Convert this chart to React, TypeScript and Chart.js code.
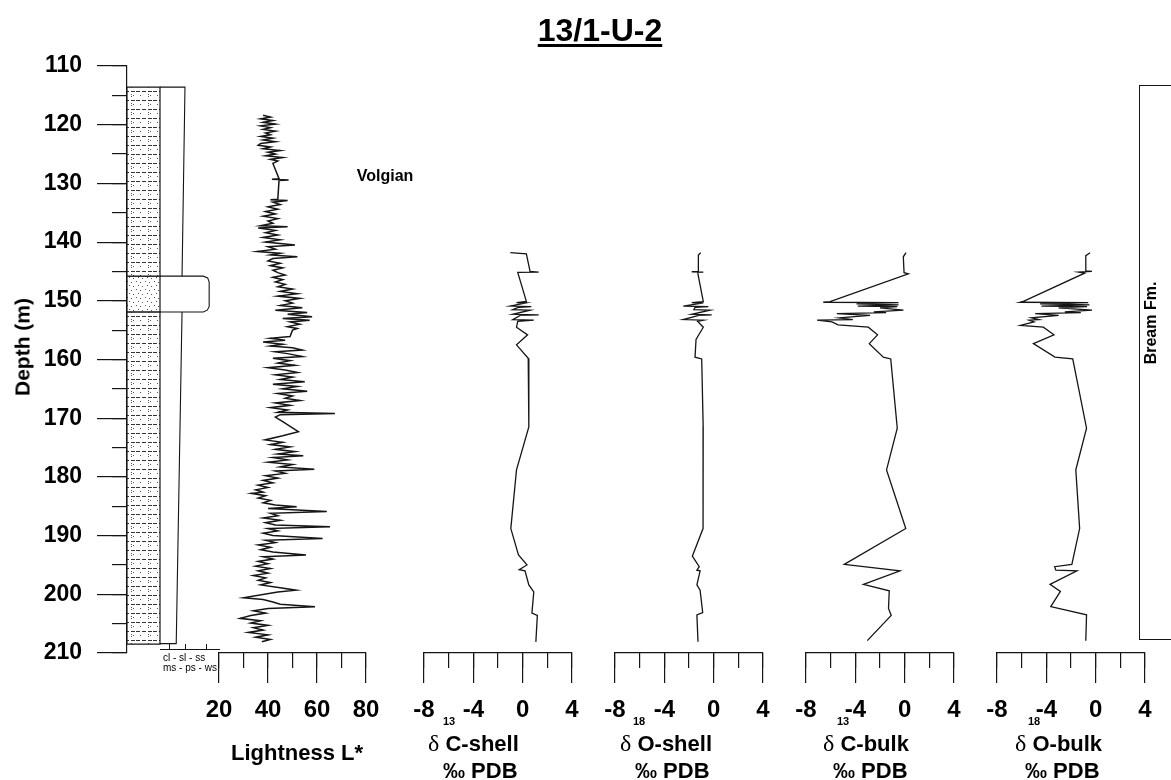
import React, { useEffect, useRef } from 'react';
import { Chart, registerables } from 'chart.js';

Chart.register(...registerables);

const FONT = '"Liberation Sans", Arial, Helvetica, sans-serif';
const SERIF = '"Liberation Serif", "Times New Roman", serif';

// ---------------- data ----------------
const depthMin = 110;
const depthMax = 210;
const depthMajorTicks = [110, 120, 130, 140, 150, 160, 170, 180, 190, 200, 210];
const depthMinorTicks = [110, 115, 120, 125, 130, 135, 140, 145, 150, 155, 160, 165, 170, 175, 180, 185, 190, 195, 200, 205, 210];

// lithology column (depth intervals)
const lithTop = [113.6, 145.8, 151.9];
const lithBase = [145.8, 151.9, 208.5];
const lithType = ['silty-mudstone', 'sandstone', 'silty-mudstone'];

// grain-size profile (cl..ws index)
const grainDepth = [113.6, 113.6, 145.8, 145.8, 145.8, 146.1, 146.8, 151.0, 151.6, 151.9, 151.9, 151.9, 208.4, 208.4];
const grainSize = [0, 2.54, 2.24, 0, 4.4, 4.85, 5.0, 5.0, 4.8, 4.4, 0, 2.24, 1.65, 0];
const grainMin = 0;
const grainMax = 6;
const grainTicks = [1, 2.6, 4.75];

// lightness L*
const lightDepth = [
  118.4, 118.7, 119.0, 119.3, 119.6, 119.9, 120.2, 120.5, 120.8, 121.1, 121.4, 121.7, 122.0, 122.3, 122.6, 122.9,
  123.2, 123.5, 123.8, 124.1, 124.4, 124.7, 125.0, 125.3, 125.6, 125.9, 126.2, 126.6, 129.2, 129.3, 129.4, 129.5,
  132.7, 132.8, 132.9, 133.2, 133.6, 134.0, 134.4, 134.8, 135.2, 135.6, 136.0, 136.4, 136.8, 137.2, 137.4, 137.6,
  138.0, 138.4, 138.8, 139.2, 139.6, 140.0, 140.5, 140.8, 141.2, 141.6, 141.9, 142.2, 142.5, 142.8, 143.2, 143.6,
  144.0, 144.4, 144.8, 145.2, 145.6, 146.0, 146.4, 146.8, 147.2, 147.6, 148.0, 148.4, 148.8, 149.2, 149.6, 150.0,
  150.4, 150.8, 151.2, 151.6, 152.0, 152.3, 152.7, 153.0, 153.3, 153.6, 154.0, 154.4, 154.7, 155.0, 156.1, 156.4,
  156.7, 157.0, 157.4, 157.7, 158.0, 158.4, 158.7, 159.0, 159.5, 159.8, 160.2, 160.6, 161.0, 161.4, 161.8, 162.2,
  162.6, 163.0, 163.4, 163.8, 164.2, 164.6, 165.0, 165.4, 165.8, 166.2, 166.6, 167.0, 167.4, 167.8, 168.2, 168.6,
  169.0, 169.2, 169.4, 169.8, 170.6, 172.3, 173.0, 173.7, 174.1, 174.5, 174.9, 175.3, 175.7, 176.1, 176.4, 176.7,
  177.1, 177.5, 177.9, 178.3, 178.7, 179.0, 179.4, 179.8, 180.2, 180.6, 181.0, 181.4, 181.8, 182.2, 182.6, 182.8,
  183.2, 183.6, 184.0, 184.4, 184.8, 185.1, 185.4, 185.9, 186.2, 186.6, 187.0, 187.4, 187.8, 188.2, 188.5, 188.8,
  189.2, 189.6, 190.0, 190.5, 190.8, 191.2, 191.6, 192.0, 192.4, 192.8, 193.3, 193.6, 194.0, 194.4, 194.8, 195.2,
  195.6, 196.0, 196.4, 196.8, 197.2, 197.6, 198.0, 198.4, 198.9, 199.3, 199.6, 200.6, 200.9, 201.3, 201.7, 202.1,
  202.4, 202.8, 203.2, 203.6, 204.1, 204.5, 204.9, 205.3, 205.7, 206.1, 206.5, 206.9, 207.3, 207.7, 208.1,
];
const lightValue = [
  38, 41, 37, 42, 38, 43, 37, 41, 38, 43, 39, 41, 37, 42, 38, 43,
  37, 36, 41, 38, 45, 40, 43, 39, 46, 41, 44, 42, 44.5, 41.6, 48.4, 44.5,
  44, 41, 48, 42, 45, 40, 44, 39, 43, 38, 44, 40, 42, 37, 48, 36,
  43, 39, 44, 38, 45, 39, 51, 40, 43, 35.6, 45, 41, 52, 42, 40, 45,
  41, 46, 42, 44, 47, 42, 46, 43, 47, 44, 50, 45, 52, 44, 53, 47,
  50, 45, 54, 43, 56, 48, 58, 46, 57, 49, 53, 48, 52, 50, 49, 41,
  47, 38, 46, 41, 50, 54, 43, 48, 54, 42, 49, 44, 51, 40, 47, 52,
  43, 50, 45, 55, 42, 52, 46, 56, 44, 50, 47, 53, 43, 49, 41, 48,
  44, 67.3, 45, 43, 46, 52.4, 46, 38.8, 46, 41, 49, 43, 51, 44, 54.4, 42,
  48, 40, 50, 45, 58.9, 43, 47, 39, 44, 38, 42, 36, 40, 35, 38, 33.3,
  39, 36, 41, 38, 43, 51.7, 40, 64, 41, 44, 38, 45, 39, 43, 65.3, 40,
  44, 38, 42, 62.3, 39, 43, 36, 41, 37, 42, 55.5, 38, 42, 36, 40, 35,
  41, 36, 40, 34, 39, 36, 41, 37, 45, 51.4, 44, 30, 38, 42, 45, 59.2,
  40, 34, 39, 33, 28.6, 37, 33, 40, 34, 38, 32, 40, 35, 41, 37.5,
];
const lightTicks = [20, 40, 60, 80];
const lightMinorTicks = [20, 30, 40, 50, 60, 70, 80];

// stable isotopes (per mil PDB)
const isoTicks = [-8, -4, 0, 4];
const isoMinorTicks = [-8, -6, -4, -2, 0, 2, 4];

const cShellDepth = [141.8, 142.0, 145.0, 145.1, 145.15, 150.1, 150.3, 150.35, 150.9, 151.0, 151.1, 151.5, 151.6, 152.3, 152.4, 152.5, 153.2, 153.3, 153.5, 154.5, 155.8, 157.5, 159.8, 171.5, 178.8, 188.8, 193.3, 195.0, 195.8, 196.0, 198.4, 199.6, 203.2, 203.6, 208.1];
const cShellValue = [-1.0, 0.3, 0.6, 1.3, -0.4, 0.3, -0.5, 0.3, -1.0, 0.7, -0.3, -0.8, 0.6, -0.8, 1.3, -0.2, -0.8, 0.9, -0.4, -0.5, 0.4, -0.5, 0.45, 0.5, -0.5, -0.96, -0.34, 0.35, -0.28, 0.19, 0.5, 0.9, 0.75, 1.19, 1.07];

const oShellDepth = [141.8, 142.2, 145.0, 145.05, 145.1, 145.15, 150.15, 150.3, 150.35, 150.9, 151.0, 151.1, 151.5, 151.6, 152.3, 152.4, 152.5, 153.2, 153.3, 153.5, 154.5, 156.6, 159.6, 159.9, 171.5, 188.8, 193.5, 195.3, 195.9, 196.0, 198.4, 199.3, 203.1, 203.5, 208.1];
const oShellValue = [-1.05, -1.24, -1.24, -1.78, -0.84, -1.3, -0.84, -1.78, -0.84, -2.46, -0.43, -1.5, -1.6, -0.3, -1.78, -0.16, -1.2, -2.46, -0.84, -1.3, -0.84, -1.43, -1.51, -0.97, -0.85, -0.86, -1.73, -1.17, -1.36, -1.1, -1.36, -1.1, -0.89, -1.36, -1.27];

const cBulkDepth = [141.8, 142.5, 145.2, 145.4, 150.15, 150.25, 150.3, 150.5, 150.7, 150.9, 151.0, 151.2, 151.6, 151.9, 152.0, 152.2, 152.5, 152.9, 153.2, 153.3, 153.6, 154.1, 154.5, 155.8, 157.3, 159.6, 159.9, 171.7, 178.8, 188.8, 194.9, 196.0, 198.3, 199.4, 202.4, 203.6, 207.9];
const cBulkValue = [0.11, -0.11, -0.05, 0.3, -6.05, -6.6, -0.5, -3.9, -0.5, -3.8, -0.6, -2.0, -0.1, -2.5, -1.5, -5.5, -2.8, -5.3, -4.2, -7.1, -5.9, -5.4, -2.95, -2.2, -2.87, -1.73, -1.13, -0.6, -1.47, 0.09, -4.9, -0.38, -3.34, -1.25, -1.31, -1.09, -3.03];

const oBulkDepth = [141.8, 142.3, 144.9, 145.0, 145.1, 145.3, 150.15, 150.25, 150.3, 150.5, 150.7, 150.9, 151.0, 151.2, 151.6, 151.9, 152.0, 152.2, 152.5, 152.9, 153.2, 153.3, 153.6, 154.2, 154.5, 155.8, 157.3, 159.6, 159.9, 171.7, 178.8, 188.8, 194.9, 195.3, 195.9, 196.0, 198.3, 199.5, 202.1, 203.5, 207.9];
const oBulkValue = [-0.45, -0.8, -0.8, -0.3, -1.4, -0.9, -5.9, -6.1, -0.6, -4.5, -0.5, -4.4, -0.7, -3.0, -0.3, -2.5, -1.2, -4.9, -3.0, -5.2, -4.6, -5.4, -5.0, -6.1, -4.24, -3.38, -5.05, -3.3, -1.86, -0.74, -1.61, -1.3, -1.93, -3.33, -3.23, -1.52, -3.7, -2.86, -3.64, -0.74, -0.8];

// ---------------- layout (pixels) ----------------
const W = 1171;
const H = 780;
const PLOT_TOP = 66;
const PLOT_BOTTOM = 653;
const AXIS_H = H - PLOT_BOTTOM;
const DEPTH_AXIS_RIGHT = 127;
const LITH_RIGHT = 160;
const GRAIN_RIGHT = 219;
const PADX = 40;

type Track = {
  left: number;
  right: number;
  min: number;
  max: number;
  ticks: number[];
  minor: number[];
  depth: number[];
  values: number[];
};

const TRACKS: Track[] = [
  { left: 219, right: 366, min: 20, max: 80, ticks: lightTicks, minor: lightMinorTicks, depth: lightDepth, values: lightValue },
  { left: 424, right: 572, min: -8, max: 4, ticks: isoTicks, minor: isoMinorTicks, depth: cShellDepth, values: cShellValue },
  { left: 615, right: 763, min: -8, max: 4, ticks: isoTicks, minor: isoMinorTicks, depth: oShellDepth, values: oShellValue },
  { left: 806, right: 954, min: -8, max: 4, ticks: isoTicks, minor: isoMinorTicks, depth: cBulkDepth, values: cBulkValue },
  { left: 997, right: 1145, min: -8, max: 4, ticks: isoTicks, minor: isoMinorTicks, depth: oBulkDepth, values: oBulkValue },
];

const INK = '#151515';

const toPoints = (d: number[], v: number[]) => d.map((y, i) => ({ x: v[i], y }));
const setTicks = (arr: number[]) => (scale: any) => {
  scale.ticks = arr.map((value) => ({ value }));
};

function makePattern(kind: string): any {
  const c = document.createElement('canvas');
  if (kind === 'sandstone') {
    c.width = 9;
    c.height = 8;
    const g = c.getContext('2d');
    if (!g) return '#fff';
    g.fillStyle = '#fff';
    g.fillRect(0, 0, 9, 8);
    g.fillStyle = '#555';
    [[1, 1], [5, 2], [3, 5], [7, 6]].forEach(([x, y]) => g.fillRect(x, y, 1, 1));
    return g.createPattern(c, 'repeat') || '#fff';
  }
  c.width = 17;
  c.height = 9;
  const g = c.getContext('2d');
  if (!g) return '#fff';
  g.fillStyle = '#fff';
  g.fillRect(0, 0, 17, 9);
  g.fillStyle = '#333';
  g.fillRect(0, 1, 4, 1);
  g.fillRect(6, 1, 4, 1);
  g.fillRect(12, 1, 4, 1);
  g.fillStyle = '#555';
  [[12, 4], [12, 6], [14, 5], [4, 5]].forEach(([x, y]) => g.fillRect(x, y, 1, 1));
  return g.createPattern(c, 'repeat') || '#fff';
}

const hiddenDepthScale = () => ({
  type: 'linear' as const,
  reverse: true,
  min: depthMin,
  max: depthMax,
  display: false,
});

const commonOptions = {
  animation: false as const,
  responsive: false,
  devicePixelRatio: 1,
  events: [] as any[],
  plugins: { legend: { display: false }, tooltip: { enabled: false }, title: { display: false } },
};

const tickFont = { family: FONT, size: 24, weight: 'bold' as const };

export default function App() {
  const depthRef = useRef<HTMLCanvasElement>(null);
  const grainRef = useRef<HTMLCanvasElement>(null);
  const trackRefs = useRef<(HTMLCanvasElement | null)[]>([]);

  useEffect(() => {
    const charts: Chart[] = [];

    // depth axis + lithology column
    if (depthRef.current) {
      charts.push(
        new Chart(depthRef.current, {
          type: 'scatter',
          data: {
            datasets: lithTop.map((top, i) => ({
              data: [
                { x: 0, y: top },
                { x: 1, y: top },
                { x: 1, y: lithBase[i] },
                { x: 0, y: lithBase[i] },
                { x: 0, y: top },
              ],
              showLine: true,
              fill: 'shape',
              backgroundColor: makePattern(lithType[i]),
              borderColor: INK,
              borderWidth: 1.2,
              pointRadius: 0,
              clip: false,
            })) as any,
          },
          options: {
            ...commonOptions,
            layout: { padding: { left: 0, right: 20, top: PLOT_TOP, bottom: AXIS_H }, autoPadding: false },
            scales: {
              x: { type: 'linear', min: 0, max: 1, display: false },
              y: {
                type: 'linear',
                position: 'left',
                reverse: true,
                min: depthMin,
                max: depthMax,
                afterFit: (s: any) => {
                  s.width = DEPTH_AXIS_RIGHT;
                },
                afterBuildTicks: setTicks(depthMajorTicks),
                ticks: { color: '#000', font: { family: FONT, size: 23, weight: 'bold' }, padding: 15, callback: (v: any) => String(v) },
                grid: { drawOnChartArea: false, tickLength: 30, color: INK, lineWidth: 1.2 },
                border: { display: true, color: INK, width: 1.2 },
              },
              ym: {
                type: 'linear',
                position: { x: 0 },
                reverse: true,
                min: depthMin,
                max: depthMax,
                afterBuildTicks: setTicks(depthMinorTicks),
                ticks: { display: false },
                grid: { drawOnChartArea: false, tickLength: 15, color: INK, lineWidth: 1.2 },
                border: { display: false },
              },
            } as any,
          },
        } as any)
      );
    }

    // grain-size profile
    if (grainRef.current) {
      charts.push(
        new Chart(grainRef.current, {
          type: 'scatter',
          data: {
            datasets: [
              {
                data: toPoints(grainDepth, grainSize),
                showLine: true,
                borderColor: INK,
                borderWidth: 1.1,
                pointRadius: 0,
                clip: false,
              },
            ],
          },
          options: {
            ...commonOptions,
            layout: { padding: { left: 10, right: 10, top: PLOT_TOP, bottom: AXIS_H }, autoPadding: false },
            scales: {
              y: hiddenDepthScale(),
              x: {
                type: 'linear',
                position: { y: 209.37 },
                min: grainMin,
                max: grainMax,
                afterBuildTicks: setTicks(grainTicks),
                ticks: { display: false },
                grid: { drawOnChartArea: false, tickLength: -6, color: INK, lineWidth: 1 },
                border: { display: true, color: INK, width: 1 },
              },
            } as any,
          },
        } as any)
      );
    }

    // data tracks
    TRACKS.forEach((t, i) => {
      const cv = trackRefs.current[i];
      if (!cv) return;
      charts.push(
        new Chart(cv, {
          type: 'scatter',
          data: {
            datasets: [
              {
                data: toPoints(t.depth, t.values),
                showLine: true,
                borderColor: INK,
                borderWidth: i === 0 ? 1.5 : 1.3,
                pointRadius: 0,
                tension: 0,
              },
            ],
          },
          options: {
            ...commonOptions,
            layout: { padding: { left: PADX, right: PADX, top: PLOT_TOP, bottom: 0 }, autoPadding: false },
            scales: {
              y: hiddenDepthScale(),
              x: {
                type: 'linear',
                position: 'bottom',
                min: t.min,
                max: t.max,
                afterFit: (s: any) => {
                  s.height = AXIS_H;
                },
                afterBuildTicks: setTicks(t.ticks),
                ticks: { color: '#000', font: tickFont, padding: 13, maxRotation: 0, autoSkip: false, callback: (v: any) => String(v) },
                grid: { drawOnChartArea: false, tickLength: 30, color: INK, lineWidth: 1.2 },
                border: { display: true, color: INK, width: 1.2 },
              },
              xm: {
                type: 'linear',
                position: { y: depthMax },
                min: t.min,
                max: t.max,
                afterBuildTicks: setTicks(t.minor),
                ticks: { display: false },
                grid: { drawOnChartArea: false, tickLength: 15, color: INK, lineWidth: 1.2 },
                border: { display: false },
              },
            } as any,
          },
        } as any)
      );
    });

    return () => charts.forEach((c) => c.destroy());
  }, []);

  const abs = (extra: React.CSSProperties): React.CSSProperties => ({
    position: 'absolute',
    whiteSpace: 'nowrap',
    lineHeight: 1,
    ...extra,
  });
  const centered = (x: number, y: number, size: number, bold = true, extra: React.CSSProperties = {}) =>
    abs({ left: x, top: y, fontSize: size, fontWeight: bold ? 'bold' : 'normal', transform: 'translate(-50%, -50%)', ...extra });
  const leftMid = (x: number, y: number, size: number, bold = true, extra: React.CSSProperties = {}) =>
    abs({ left: x, top: y, fontSize: size, fontWeight: bold ? 'bold' : 'normal', transform: 'translateY(-50%)', ...extra });

  const isoTitles = [
    { sup: '13', name: 'C-shell', supX: 443, dX: 428, pX: 443 },
    { sup: '18', name: 'O-shell', supX: 633, dX: 620, pX: 635 },
    { sup: '13', name: 'C-bulk', supX: 837, dX: 823, pX: 833 },
    { sup: '18', name: 'O-bulk', supX: 1028, dX: 1015, pX: 1025 },
  ];

  return (
    <div
      style={{
        position: 'absolute',
        left: 0,
        top: 0,
        width: W,
        height: H,
        overflow: 'hidden',
        background: '#fff',
        fontFamily: FONT,
        color: '#000',
      }}
    >
      <canvas ref={depthRef} width={LITH_RIGHT + 20} height={H} style={{ position: 'absolute', left: 0, top: 0, width: LITH_RIGHT + 20, height: H }} />
      <canvas
        ref={grainRef}
        width={GRAIN_RIGHT - LITH_RIGHT + 20}
        height={H}
        style={{ position: 'absolute', left: LITH_RIGHT - 10, top: 0, width: GRAIN_RIGHT - LITH_RIGHT + 20, height: H }}
      />
      {TRACKS.map((t, i) => (
        <canvas
          key={i}
          ref={(el) => {
            trackRefs.current[i] = el;
          }}
          width={t.right - t.left + 2 * PADX}
          height={H}
          style={{ position: 'absolute', left: t.left - PADX, top: 0, width: t.right - t.left + 2 * PADX, height: H }}
        />
      ))}

      {/* title */}
      <div style={centered(600, 30, 32, true, { textDecoration: 'underline', textDecorationThickness: '3px', textUnderlineOffset: '3px' })}>13/1-U-2</div>

      {/* depth axis title */}
      <div style={centered(22, 347, 21, true, { transform: 'translate(-50%, -50%) rotate(-90deg)' })}>Depth (m)</div>

      {/* grain size legend */}
      <div style={leftMid(163, 658, 10, false)}>cl - sl - ss</div>
      <div style={leftMid(163, 668, 10, false)}>ms - ps - ws</div>

      {/* lightness title */}
      <div style={centered(297, 753, 22)}>Lightness L*</div>

      {/* isotope titles */}
      {isoTitles.map((t, i) => (
        <React.Fragment key={i}>
          <div style={leftMid(t.supX, 721, 11)}>{t.sup}</div>
          <div style={leftMid(t.dX, 743, 22)}>
            <span style={{ fontFamily: SERIF, fontWeight: 'normal', fontSize: 24 }}>δ</span> {t.name}
          </div>
          <div style={leftMid(t.pX, 771, 22)}>‰ PDB</div>
        </React.Fragment>
      ))}

      {/* stage label */}
      <div style={centered(385, 176, 16)}>Volgian</div>

      {/* formation box */}
      <div style={abs({ left: 1139, top: 85, width: 60, height: 555, border: `1.3px solid ${INK}`, boxSizing: 'border-box' })} />
      <div style={centered(1151, 323, 16, true, { transform: 'translate(-50%, -50%) rotate(-90deg)' })}>Bream Fm.</div>
    </div>
  );
}
